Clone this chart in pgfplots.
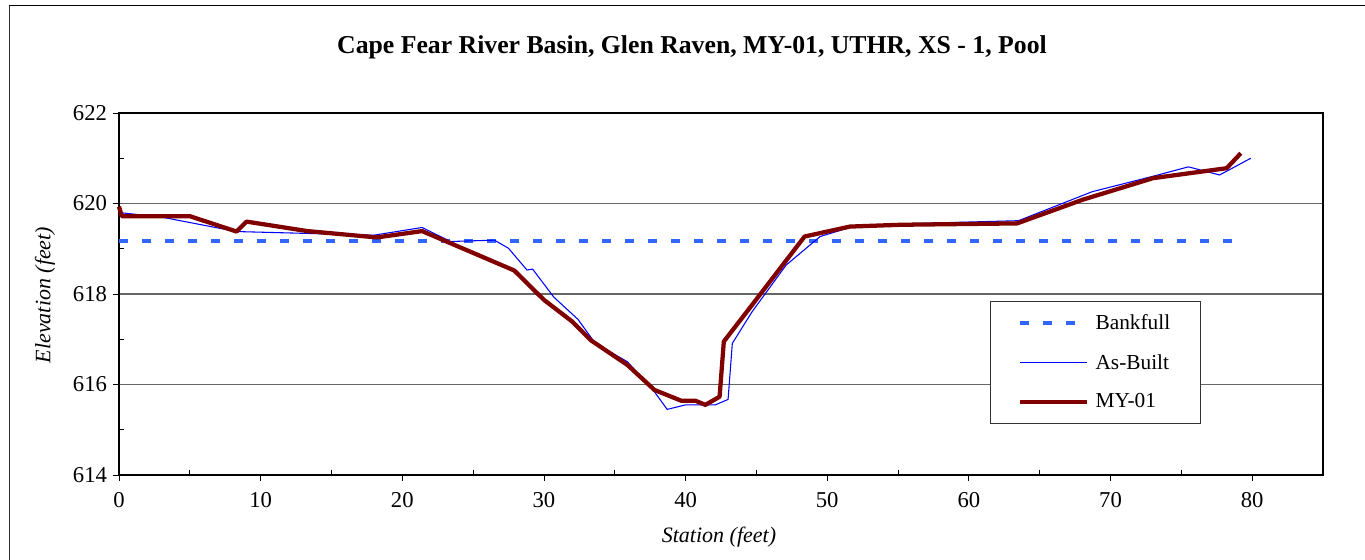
\documentclass[border=0pt]{standalone}
\usepackage{fontspec}
\setmainfont{Liberation Serif}
\usepackage{pgfplots}
\pgfplotsset{compat=1.18}
\definecolor{bankblue}{HTML}{3366FF}
\definecolor{asblue}{HTML}{0000FF}
\definecolor{myred}{HTML}{800000}
\begin{document}
\begin{tikzpicture}
\path[use as bounding box] (-89.25pt,-63.75pt) rectangle (934.5pt,356.25pt);
\draw[black!80, line width=0.8pt] (-82pt,-64pt) -- (-82pt,352pt);
\draw[black, line width=1.2pt] (-82.6pt,352pt) -- (935pt,352pt);
\begin{axis}[
  scale only axis,
  width=903pt, height=271.5pt,
  xmin=0, xmax=85, ymin=614, ymax=622,
  xtick={0,10,...,80}, ytick={614,616,...,622},
  minor x tick num=1, minor y tick num=1,
  xtick pos=bottom, ytick pos=left,
  tick align=outside,
  major tick length=4.5pt,
  minor tick length=-4pt,
  tick style={black, line width=0.6pt},
  axis line style={black, line width=0.9pt},
  ymajorgrids,
  major grid style={black!60, line width=0.8pt},
  ticklabel style={font=\fontsize{17}{20}\selectfont},
  /pgf/number format/assume math mode=true,
  /pgf/number format/set thousands separator={},
  xticklabel style={yshift=-5pt},
  yticklabel style={xshift=-1pt},
  legend style={at={(axis cs:61.46,617.85)}, anchor=north west,
    font=\fontsize{16}{19}\selectfont, draw=black!80, line width=0.6pt, fill=white,
    inner xsep=21pt, inner ysep=8pt, row sep=13pt,
    /tikz/every odd column/.append style={column sep=3pt}},
  legend cell align=left,
  legend image code/.code={\draw[#1] (0pt,0pt) -- (50pt,0pt);},
  clip=false,
]
\addplot[bankblue, line width=3pt, dash pattern=on 6.75pt off 10.5pt] coordinates {(0,619.17) (78.7,619.17)};
\addlegendentry{Bankfull}
\addplot[asblue, line width=0.8pt] coordinates {
(0,619.8) (3,619.7) (8.3,619.38) (18.0,619.3) (21.4,619.47) (23.4,619.16) (26.5,619.19) (27.5,619.01) (28.8,618.53) (29.2,618.55) (30.7,617.93) (32.4,617.44) (33.6,616.92) (35.9,616.5) (37.8,615.84) (38.7,615.45) (40.0,615.55) (42.1,615.55) (43.0,615.67) (43.3,616.91) (44.7,617.61) (47.1,618.64) (49.5,619.27) (51.6,619.47) (55.2,619.55) (63.5,619.62) (68.7,620.26) (73.1,620.61) (75.5,620.81) (77.7,620.63) (79.9,621.0)};
\addlegendentry{As-Built}
\addplot[myred, line width=3.2pt, line join=round] coordinates {
(0,619.93) (0.2,619.72) (5.0,619.72) (8.3,619.38) (9.0,619.6) (13.3,619.39) (18.2,619.25) (21.4,619.39) (27.9,618.52) (30.0,617.87) (32.0,617.39) (33.3,616.98) (35.9,616.43) (37.8,615.88) (39.7,615.64) (40.7,615.64) (41.4,615.55) (42.4,615.73) (42.7,616.95) (44.6,617.72) (48.4,619.27) (51.6,619.49) (55.2,619.53) (63.4,619.56) (68.0,620.08) (73.0,620.56) (78.2,620.78) (79.2,621.11)};
\addlegendentry{MY-01}
\end{axis}
\node[font=\fontsize{19.3}{23}\selectfont\bfseries] at (429.75pt,321pt) {Cape Fear River Basin, Glen Raven, MY-01, UTHR, XS - 1, Pool};
\node[font=\fontsize{16.5}{20}\selectfont\itshape] at (450pt,-46.5pt) {Station (feet)};
\node[font=\fontsize{16.5}{20}\selectfont\itshape, rotate=90] at (-55.5pt,135pt) {Elevation (feet)};
\end{tikzpicture}
\end{document}
